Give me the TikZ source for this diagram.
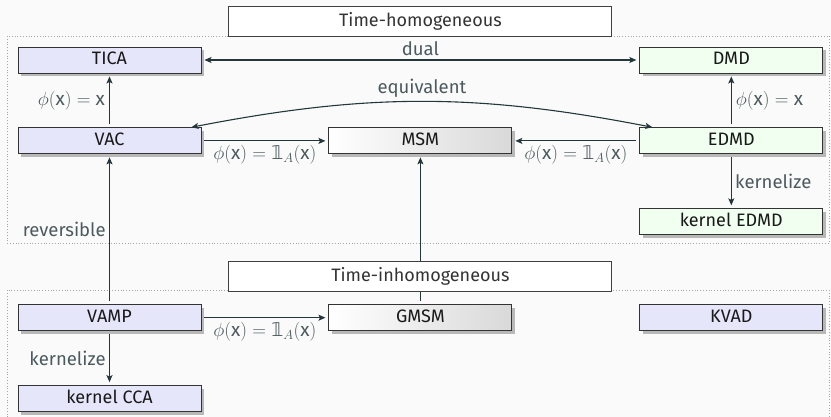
\RequirePackage{fix-cm}
\documentclass[tikz,border=0pt]{standalone}
\usepackage{amsmath}
\usepackage{fontspec}
\setmainfont{Fira Sans}
\newfontfamily\dejavu{DejaVu Sans}
\newcommand{\indic}{\text{\dejavu 𝟙}}
\usetikzlibrary{arrows.meta,matrix,positioning,shadows}
\definecolor{bgcol}{HTML}{FAFAFA}
\definecolor{linecol}{HTML}{23373B}
\definecolor{labelcol}{HTML}{4C5A5D}
\definecolor{bluefill}{HTML}{E6E6FA}
\definecolor{greenfill}{HTML}{F0FFF0}
\tikzset{>={Stealth[length=7pt, width=6pt, inset=1.5pt]},
  box/.style={draw=black!80, line width=0.9pt, minimum width=183pt,
    minimum height=26pt, text height=12pt, text depth=3pt, inner sep=0pt,
    text=black!90,
    drop shadow={shadow xshift=3pt, shadow yshift=-3pt, fill=black!45, opacity=.6}},
  bluebox/.style={fill=bluefill},
  greenbox/.style={fill=greenfill},
  greybox/.style={left color=white, right color=black!15},
  header/.style={draw=black!75, line width=0.9pt, fill=white,
    minimum width=383pt, minimum height=30pt, text=black!80},
  region/.style={draw=black!35, dotted, line width=0.8pt},
  link/.style={->, draw=linecol, line width=1.1pt, shorten >=3pt, shorten <=3pt},
  lbl/.style={text=labelcol, font=\fontsize{18.5}{22}\selectfont},
  mathlbl/.style={lbl, font=\fontsize{19}{23}\selectfont, inner sep=4pt}}

\begin{document}
\begin{tikzpicture}[x=1pt,y=-1pt,font=\fontsize{18}{21}\selectfont]
  \fill[bgcol] (0,0) rectangle (831,417);
  \useasboundingbox (0,0) rectangle (831,417);
  \draw[region] (7,36) rectangle (829,243);
  \draw[region] (7,420) -- (7,290) -- (829,290) -- (829,420);
  \matrix (m) [matrix of nodes, nodes={box}, row sep=54pt,
    column sep=127pt, matrix anchor=m-1-1.center] at (109.5,60)
    { |[bluebox]| TICA & & |[greenbox]| DMD \\
      |[bluebox]| VAC & |[greybox]| MSM & |[greenbox]| EDMD \\
      & & |[greenbox]| kernel EDMD \\[15pt]
      |[bluebox]| VAMP & |[greybox]| GMSM & |[bluebox]| KVAD \\
      |[bluebox]| kernel CCA & & \\ };
  \draw[link, <->] (m-1-1) -- node[lbl, above] {dual} (m-1-3);
  \draw[link] (m-2-1) -- node[mathlbl, left] {$\phi(\text{x}) = \text{x}$} (m-1-1);
  \draw[link] (m-2-3) -- node[mathlbl, right] {$\phi(\text{x}) = \text{x}$} (m-1-3);
  \draw[link, <->, shorten >=1pt, shorten <=1pt] ([xshift=-11pt]m-2-1.north east)
    to[bend left=11] node[lbl, above] {equivalent} ([xshift=14pt]m-2-3.north west);
  \draw[link] (m-2-1) -- node[mathlbl, below] {$\phi(\text{x}) = \indic_A(\text{x})$} (m-2-2);
  \draw[link] (m-2-3) -- node[mathlbl, below] {$\phi(\text{x}) = \indic_A(\text{x})$} (m-2-2);
  \draw[link] (m-2-3) -- node[lbl, right] {kernelize} (m-3-3);
  \draw[link] (m-4-1) -- node[lbl, left] {reversible} (m-2-1);
  \draw[link] (m-4-2) -- (m-2-2);
  \draw[link] (m-4-1) -- node[mathlbl, below] {$\phi(\text{x}) = \indic_A(\text{x})$} (m-4-2);
  \draw[link] (m-4-1) -- node[lbl, left] {kernelize} (m-5-1);
  \node[header, above=91pt of m-2-2] (homog) {Time-homogeneous};
  \node[header, above=12pt of m-4-2] (inhomog) {Time-inhomogeneous};
\end{tikzpicture}
\end{document}
